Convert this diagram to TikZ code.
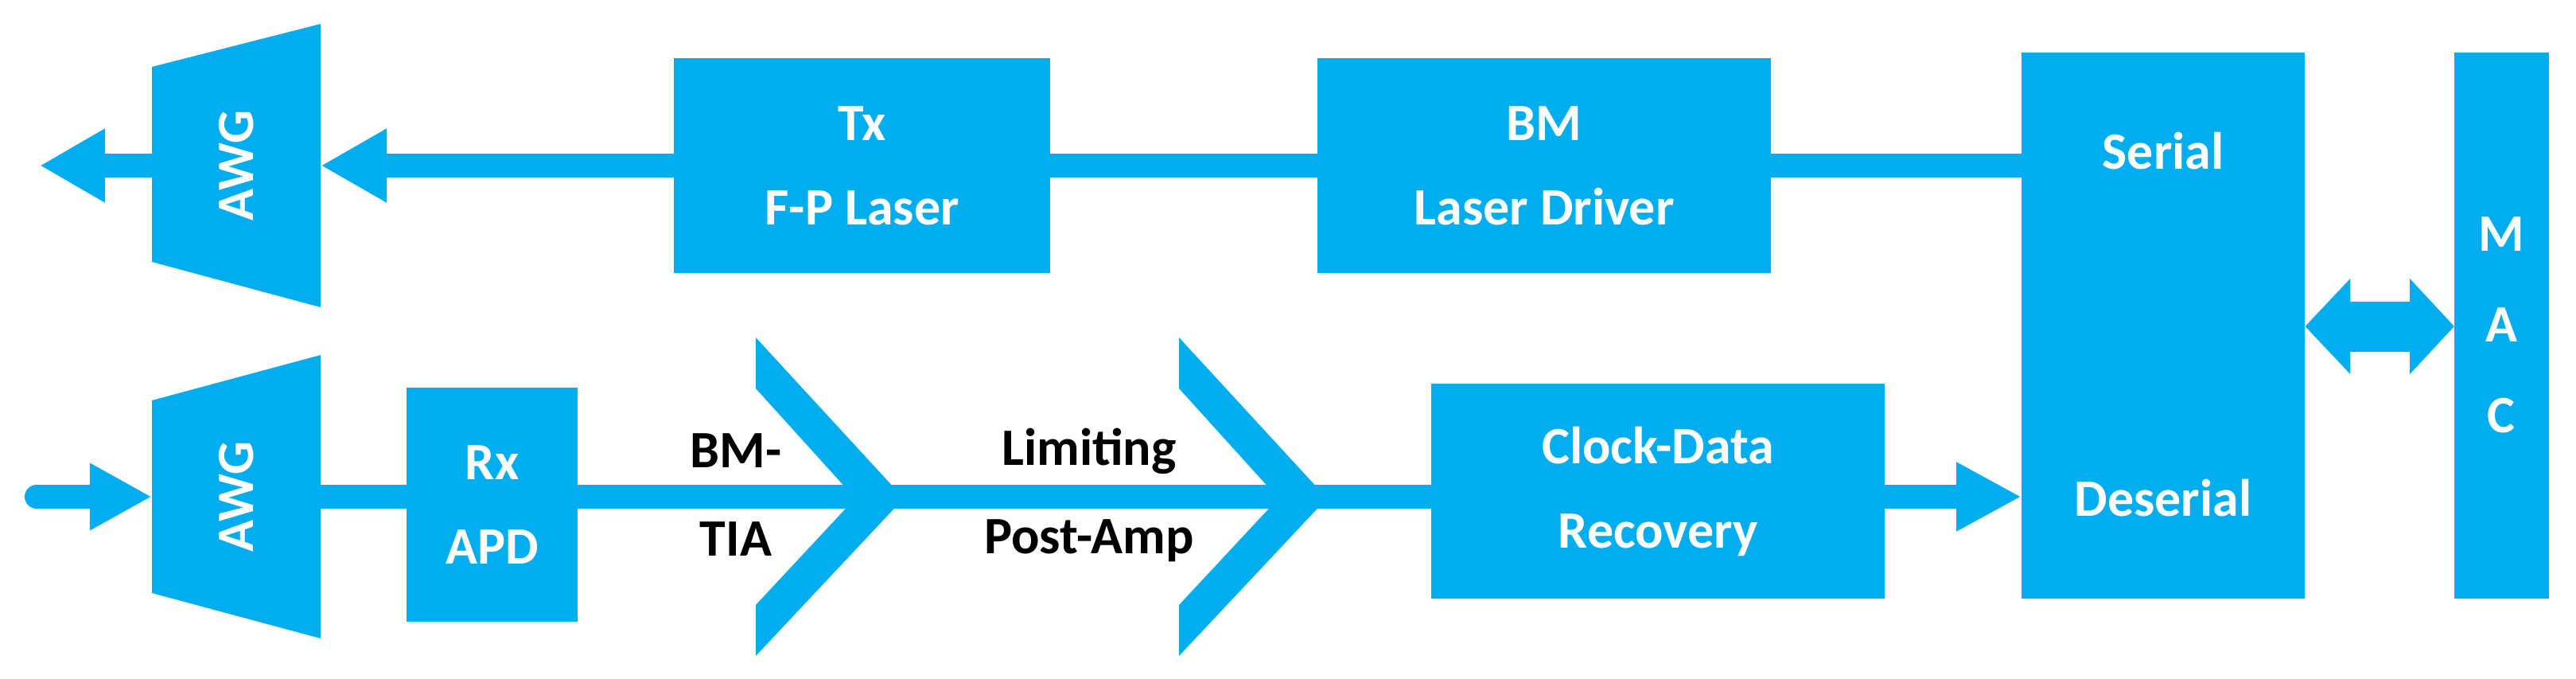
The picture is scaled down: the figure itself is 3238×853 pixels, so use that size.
\documentclass[tikz,border=0pt]{standalone}
\usepackage{fontspec}
\setmainfont{Carlito}
\usetikzlibrary{arrows.meta}
\definecolor{cy}{HTML}{00AEEF}
\begin{document}
\begin{tikzpicture}[x=1pt,y=-1pt,
  box/.style={fill=cy,draw=none,text=white,font=\fontsize{66}{106}\selectfont\bfseries,align=center,inner sep=0pt,anchor=north west},
  ghost/.style={draw=none,inner sep=0pt,minimum width=212pt},
  wire/.style={draw=cy,line width=30pt},
  btxt/.style={font=\fontsize{66}{111}\selectfont\bfseries,align=center,text=black}]
\useasboundingbox (0,0) rectangle (3238,853);
% AWG trapezoids
\fill[cy] (191,84) -- (403,30) -- (403,386) -- (191,329) -- cycle;
\fill[cy] (191,503) -- (403,446) -- (403,802) -- (191,745) -- cycle;
\node[ghost,minimum height=245pt] (awg1) at (297,208) {};
\node[ghost,minimum height=245pt] (awg2) at (297,624) {};
\node[text=white,rotate=90,font=\fontsize{66}{80}\selectfont\bfseries] at (awg1) {AWG};
\node[text=white,rotate=90,font=\fontsize{66}{80}\selectfont\bfseries] at (awg2) {AWG};
% boxes
\node[box,minimum width=473pt,minimum height=270pt] (tx) at (847,73) {Tx\\F-P Laser};
\node[box,minimum width=570pt,minimum height=270pt] (bm) at (1656,73) {BM\\Laser Driver};
\node[box,minimum width=356pt,minimum height=686pt] (ser) at (2541,66) {};
\node[text=white,font=\fontsize{66}{80}\selectfont\bfseries] at (2719,190) {Serial};
\node[text=white,font=\fontsize{66}{80}\selectfont\bfseries] at (2719,626) {Deserial};
\node[box,minimum width=119pt,minimum height=686pt] (mac) at (3085,66) {};
\node[text=white,font=\fontsize{66}{114}\selectfont\bfseries,align=center] at (3144,408) {M\\A\\C};
\node[box,minimum width=215pt,minimum height=294pt] (rx) at (511,487) {Rx\\APD};
\node[box,minimum width=570pt,minimum height=270pt] (cdr) at (1799,482) {Clock-Data\\Recovery};
\coordinate (outl) at (50,208);
\coordinate (inl) at (46,624);
% wires top
\draw[wire] (ser.west |- 0,208) -- (bm.east |- 0,208);
\draw[wire] (bm.west |- 0,208) -- (tx.east |- 0,208);
\draw[wire,-{Triangle[width=87pt,length=83pt]}] (tx.west |- 0,208) -- (awg1.east);
\draw[wire,-{Triangle[width=87pt,length=82pt]}] (awg1.west) -- (outl);
% wires bottom
\draw[wire,line cap=round,-{Triangle[width=79pt,length=78pt]}] (inl) -- (awg2.west);
\draw[wire] (awg2.east) -- (rx.west |- 0,624);
\draw[wire] (rx.east |- 0,624) -- (cdr.west |- 0,624);
\draw[wire,-{Triangle[width=81pt,length=82pt]}] (cdr.east |- 0,624) -- (ser.west |- 0,624);
\draw[draw=cy,line width=63pt,{Triangle[width=117pt,length=57pt]}-{Triangle[width=117pt,length=56pt]}] (ser.east |- 0,410) -- (mac.west |- 0,410);
% chevrons
\fill[cy] (950,424) -- (1136,626) -- (950,824) -- (950,760) -- (1075,626) -- (950,488) -- cycle;
\fill[cy] (1482,424) -- (1668,626) -- (1482,824) -- (1482,760) -- (1607,626) -- (1482,488) -- cycle;
\node[btxt] (tia) at (925,622) {BM-\\TIA};
\node[btxt] (lim) at (1369,622) {Limiting\\Post-Amp};
\end{tikzpicture}
\end{document}
